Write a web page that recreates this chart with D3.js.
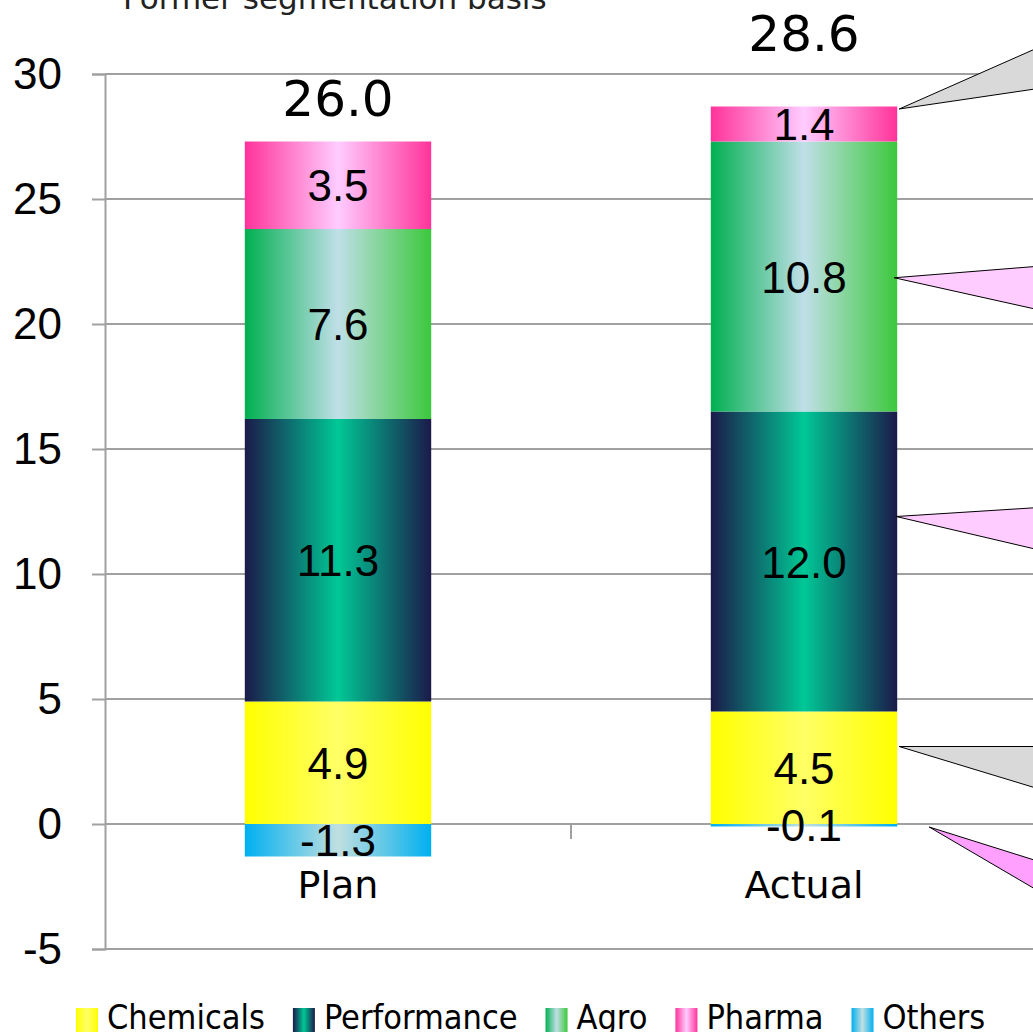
<!DOCTYPE html>
<html lang="en">
<head>
<meta charset="utf-8" />
<script src="https://d3js.org/d3.v7.min.js"></script>
<style>
  body { margin: 0; background: #fff; }
  svg { display: block; }
</style>
</head>
<body>
<script>
// chart data
var categories = ["Plan", "Actual"];
var segments = ["Chemicals", "Performance", "Agro", "Pharma", "Others"];
var chemicals = [4.9, 4.5];
var performance = [11.3, 12.0];
var agro = [7.6, 10.8];
var pharma = [3.5, 1.4];
var others = [-1.3, -0.1];
var totals = [26.0, 28.6];
var yTicks = [-5, 0, 5, 10, 15, 20, 25, 30];

// callout wedges on the Actual bar (values in axis units)
var callouts = [
  { at: 28.6, hi: 31.0, lo: 29.4, dx: 2, fill: "#d9d9d9" },
  { at: 21.85, hi: 22.3, lo: 20.6, dx: -3, fill: "#ffccff" },
  { at: 12.3, hi: 12.65, lo: 11.0, dx: -1, fill: "#ffccff" },
  { at: 3.1, hi: 3.1, lo: 1.45, dx: 2, fill: "#d9d9d9" },
  { at: -0.12, hi: -1.45, lo: -2.6, dx: 32, fill: "#ffa0ff" }
];

var gradients = {
  Chemicals: ["#ffff00", "#ffff66", "#ffff00"],
  Performance: ["#1b1a4a", "#00c896", "#1b1a4a"],
  Agro: ["#00b050", "#c0dfe8", "#3cc83c"],
  Pharma: ["#ff3399", "#ffccff", "#ff3399"],
  Others: ["#00b0f0", "#c0dfe0", "#00b0f0"]
};

var W = 1033, H = 1032;
var arial = "'Liberation Sans', Arial, sans-serif";
var verdana = "'DejaVu Sans', Verdana, sans-serif";

var svg = d3.select("body").append("svg")
  .attr("width", W).attr("height", H);

var defs = svg.append("defs");
segments.forEach(function(s) {
  var g = defs.append("linearGradient").attr("id", "g-" + s)
    .attr("x1", "0%").attr("x2", "100%").attr("y1", "0%").attr("y2", "0%");
  var c = gradients[s];
  g.append("stop").attr("offset", "0%").attr("stop-color", c[0]);
  g.append("stop").attr("offset", "50%").attr("stop-color", c[1]);
  g.append("stop").attr("offset", "100%").attr("stop-color", c[2]);
});

var x = d3.scaleBand().domain(categories).range([105, 1037]).padding(0);
var y = d3.scaleLinear().domain([-5, 30]).range([949, 74]);
var barW = x.bandwidth() * 0.4;

// title (cut off at top)
svg.append("text")
  .attr("x", 123).attr("y", 9)
  .style("font-family", verdana).style("font-size", "31px")
  .style("fill", "#222")
  .text("Former segmentation basis");

// gridlines
svg.append("g").selectAll("line")
  .data(yTicks)
  .enter().append("line")
  .attr("x1", 105).attr("x2", W)
  .attr("y1", function(d) { return y(d); })
  .attr("y2", function(d) { return y(d); })
  .attr("stroke", "#a0a0a0").attr("stroke-width", 2);

// y axis
var yAxis = svg.append("g")
  .attr("transform", "translate(105,0)")
  .call(d3.axisLeft(y).tickValues(yTicks).tickSize(13).tickPadding(30)
    .tickFormat(function(d) { return String(d); }));
yAxis.select(".domain").attr("stroke", "#a0a0a0").attr("stroke-width", 2);
yAxis.selectAll(".tick line").attr("stroke", "#a0a0a0").attr("stroke-width", 2);
yAxis.selectAll(".tick text")
  .style("font-family", arial).style("font-size", "44px").style("fill", "#000")
  .attr("dy", "0.34em");

// category tick on zero line
svg.append("line")
  .attr("x1", x("Actual")).attr("x2", x("Actual"))
  .attr("y1", y(0)).attr("y2", y(0) + 15)
  .attr("stroke", "#a0a0a0").attr("stroke-width", 2);

// stack the data
var series = { Chemicals: chemicals, Performance: performance, Agro: agro, Pharma: pharma, Others: others };
var rects = [];
categories.forEach(function(cat, i) {
  var pos = 0, neg = 0;
  segments.forEach(function(s) {
    var v = series[s][i];
    var y0, y1;
    if (v >= 0) { y0 = pos; y1 = pos + v; pos = y1; }
    else { y0 = neg + v; y1 = neg; neg = y0; }
    rects.push({ cat: cat, seg: s, v: v, y0: y0, y1: y1 });
  });
});

var bars = svg.append("g");
bars.selectAll("rect")
  .data(rects)
  .enter().append("rect")
  .attr("x", function(d) { return x(d.cat) + (x.bandwidth() - barW) / 2; })
  .attr("width", barW)
  .attr("y", function(d) { return y(d.y1); })
  .attr("height", function(d) { return y(d.y0) - y(d.y1); })
  .attr("fill", function(d) { return "url(#g-" + d.seg + ")"; });

bars.selectAll("text")
  .data(rects)
  .enter().append("text")
  .attr("x", function(d) { return x(d.cat) + x.bandwidth() / 2; })
  .attr("y", function(d) { return (y(d.y0) + y(d.y1)) / 2 + 16; })
  .attr("text-anchor", "middle")
  .style("font-family", arial).style("font-size", "44px").style("fill", "#000")
  .text(function(d) { return d.v.toFixed(1); });

// totals
svg.append("g").selectAll("text")
  .data(totals)
  .enter().append("text")
  .attr("x", function(d, i) { return x(categories[i]) + x.bandwidth() / 2; })
  .attr("y", function(d) { return y(d) - 58; })
  .attr("text-anchor", "middle")
  .style("font-family", verdana).style("font-size", "50px").style("fill", "#000")
  .text(function(d) { return d.toFixed(1); });

// category labels
svg.append("g").selectAll("text")
  .data(categories)
  .enter().append("text")
  .attr("x", function(d) { return x(d) + x.bandwidth() / 2; })
  .attr("y", 898)
  .attr("text-anchor", "middle")
  .style("font-family", verdana).style("font-size", "38px").style("fill", "#000")
  .text(function(d) { return d; });

// callout wedges
var barRight = x("Actual") + (x.bandwidth() + barW) / 2;
svg.append("g").selectAll("path")
  .data(callouts)
  .enter().append("path")
  .attr("d", function(d) {
    return "M" + (barRight + d.dx) + "," + y(d.at) +
      "L" + (W + 2) + "," + y(d.hi) +
      "L" + (W + 2) + "," + y(d.lo) + "Z";
  })
  .attr("fill", function(d) { return d.fill; })
  .attr("stroke", "#000").attr("stroke-width", 1);

// legend
var legend = svg.append("g");
var lx = 76;
segments.forEach(function(s) {
  legend.append("rect")
    .attr("x", lx).attr("y", 1008).attr("width", 22).attr("height", 24)
    .attr("fill", "url(#g-" + s + ")");
  var t = legend.append("text")
    .attr("x", lx + 31).attr("y", 1029)
    .style("font-family", "'DejaVu Sans Condensed', 'DejaVu Sans', sans-serif")
    .style("font-stretch", "condensed")
    .style("font-size", "34px").style("fill", "#000")
    .text(s);
  lx += 31 + t.node().getComputedTextLength() + 28;
});
</script>
</body>
</html>
